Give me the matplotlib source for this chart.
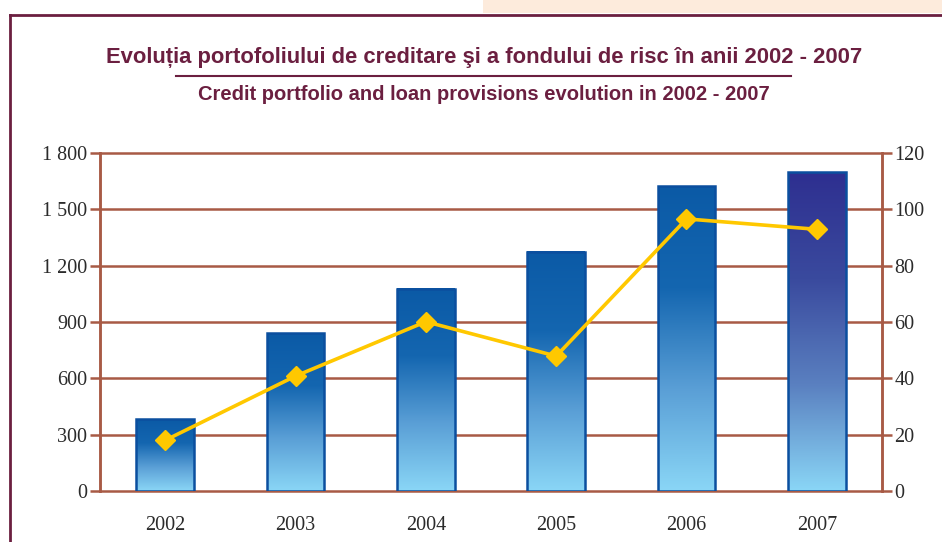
import numpy as np
import matplotlib
matplotlib.use("Agg")
import matplotlib.pyplot as plt
from matplotlib.colors import LinearSegmentedColormap
from matplotlib.patches import Rectangle
from matplotlib.lines import Line2D
from matplotlib import font_manager

years = ["2002", "2003", "2004", "2005", "2006", "2007"]
portfolio = [382, 841, 1076, 1273, 1624, 1697]      # left axis
provisions = [18.0, 40.8, 60.1, 47.9, 96.6, 92.9]    # right axis
left_ticks = [0, 300, 600, 900, 1200, 1500, 1800]
left_labels = ["0", "300", "600", "900", "1 200", "1 500", "1 800"]
right_ticks = [0, 20, 40, 60, 80, 100, 120]

title_ro = "Evoluția portofoliului de creditare şi a fondului de risc în anii 2002 - 2007"
title_en = "Credit portfolio and loan provisions evolution in 2002 - 2007"

W, H = 942, 542
maroon = "#6b1f40"
grid_c = "#a85a45"
tick_c = "#2b2b2b"

names = {f.name for f in font_manager.fontManager.ttflist}
title_font = "Liberation Sans Narrow" if "Liberation Sans Narrow" in names else "Liberation Sans"

fig = plt.figure(figsize=(W / 100, H / 100), dpi=100)
fig.patch.set_facecolor("white")

# frame and pink strip
fig.patches.append(Rectangle((483 / W, 1 - 13 / H), 1, 13 / H, transform=fig.transFigure,
                             facecolor="#fdebdc", edgecolor="none", zorder=0))
fig.lines.append(Line2D([9.5 / W, 1], [1 - 14.5 / H] * 2, transform=fig.transFigure,
                        color=maroon, lw=2.0))
fig.lines.append(Line2D([9.5 / W] * 2, [0, 1 - 14.5 / H], transform=fig.transFigure,
                        color=maroon, lw=2.0))

# titles
t1 = fig.text(484 / W, 1 - 57 / H, title_ro, ha="center", va="center", color=maroon,
              fontsize=13, fontweight="bold", family=title_font)
t2 = fig.text(484 / W, 1 - 95 / H, title_en, ha="center", va="center", color=maroon,
              fontsize=11, fontweight="bold", family=title_font)
fig.lines.append(Line2D([176 / W, 791 / W], [1 - 76 / H] * 2, transform=fig.transFigure,
                        color=maroon, lw=1.5))

# fit title widths to the reference
r = fig.canvas.get_renderer()
for t, target in [(t1, 756), (t2, 575)]:
    w = t.get_window_extent(r).width
    t.set_fontsize(t.get_fontsize() * target / w)

ax = fig.add_axes([100 / W, 1 - 491 / H, 782 / W, 338 / H])
ax2 = ax.twinx()

x = np.arange(len(years))
bw = 0.44
grad = np.linspace(0, 1, 256).reshape(-1, 1)
blue = LinearSegmentedColormap.from_list("b", ["#8ad6f6", "#5a9fd6", "#1466b0", "#0b5aa6"])
purple = LinearSegmentedColormap.from_list("p", ["#8ad6f6", "#5a80c0", "#3a4a9e", "#2e2f90"])
for i, v in enumerate(portfolio):
    cm = purple if i == len(years) - 1 else blue
    ax.imshow(grad, cmap=cm, origin="lower", aspect="auto",
              extent=[x[i] - bw / 2, x[i] + bw / 2, 0, v], zorder=3)
    ax.add_patch(Rectangle((x[i] - bw / 2, 0), bw, v, facecolor="none",
                           edgecolor="#0b4f9f", lw=1.8, zorder=4))

ax.set_xlim(-0.5, len(years) - 0.5)
ax.set_ylim(0, 1800)
ax.set_yticks(left_ticks)
ax.set_yticklabels(left_labels)
ax.set_xticks(x)
ax.set_xticklabels(years)
for yv in left_ticks:
    ax.axhline(yv, color=grid_c, lw=1.8, zorder=1, clip_on=False)

ax2.plot(x, provisions, color="#ffc800", lw=2.6, marker="D", markersize=10,
         markeredgecolor="#ffc800", zorder=5)
ax2.set_ylim(0, 120)
ax2.set_yticks(right_ticks)

for a in (ax, ax2):
    for s in ["top", "bottom"]:
        a.spines[s].set_visible(False)
    a.spines["left"].set_color(grid_c)
    a.spines["right"].set_color(grid_c)
    a.spines["left"].set_linewidth(1.8)
    a.spines["right"].set_linewidth(1.8)
    a.tick_params(axis="y", colors=grid_c, width=1.8, length=7, labelcolor=tick_c,
                  labelsize=14.5, pad=2)
    for lab in a.get_yticklabels():
        lab.set_family("Liberation Serif")
ax.tick_params(axis="x", length=0, labelcolor=tick_c, labelsize=14.5, pad=18)
for lab in ax.get_xticklabels():
    lab.set_family("Liberation Serif")
ax.set_zorder(1)
ax2.set_zorder(2)
ax2.patch.set_visible(False)

fig.savefig("out.png", dpi=100)
